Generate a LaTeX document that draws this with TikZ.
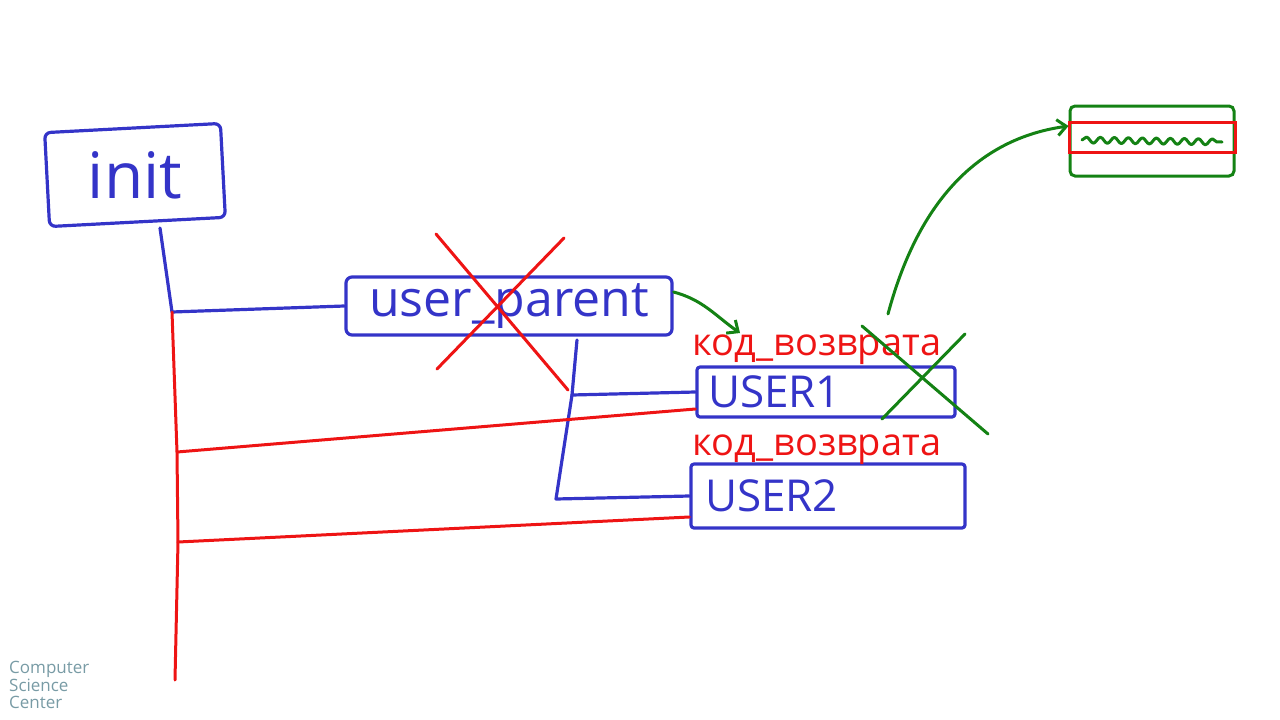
\documentclass[tikz,border=0pt]{standalone}
\usepackage{fontspec}
\setmainfont{Open Sans}
\usetikzlibrary{arrows.meta,decorations.pathmorphing}
\definecolor{pblue}{RGB}{52,52,200}
\definecolor{pred}{RGB}{238,20,20}
\definecolor{pgreen}{RGB}{20,130,20}
\definecolor{logo}{RGB}{120,155,165}
\tikzset{
  bluepen/.style={draw=pblue,line width=3.2pt,line cap=round,line join=round},
  redpen/.style={draw=pred,line width=3pt,line cap=round,line join=round},
  greenpen/.style={draw=pgreen,line width=3pt,line cap=round,line join=round},
  procbox/.style={bluepen,rounded corners=6pt,inner sep=0pt,text=pblue},
}
\begin{document}
\begin{tikzpicture}[x=1pt,y=-1pt]
\useasboundingbox (0,0) rectangle (1280,720);
% init
\node[procbox,minimum width=176pt,minimum height=94pt,rotate=3] (init) at (135,175) {};
\node[text=pblue,inner sep=0pt,font=\fontsize{64}{66}\selectfont] (initlabel) at (init.center) {init};
% user_parent
\node[procbox,minimum width=326pt,minimum height=58pt,font=\fontsize{50}{52}\selectfont] (up) at (509,306) {user\_parent};
% user1, user2
\node[procbox,rounded corners=3pt,minimum width=258pt,minimum height=50pt,font=\fontsize{44}{46}\selectfont,text width=236pt,align=left] (u1) at (826,392) {USER1};
\node[procbox,rounded corners=3pt,minimum width=274pt,minimum height=64pt,font=\fontsize{44}{46}\selectfont,text width=246pt,align=left] (u2) at (828,496) {USER2};
% return code labels
\node[text=pred,font=\fontsize{38}{40}\selectfont,inner sep=0pt] (rc1) at (817,350) {код\_возврата};
\node[text=pred,font=\fontsize{38}{40}\selectfont,inner sep=0pt] (rc2) at (817,450) {код\_возврата};
% tree lines
\coordinate (j0) at (172,312);
\coordinate (j1) at (572,395);
\coordinate (j2) at (556,499);
\coordinate (r1) at (177,452);
\coordinate (r2) at (178,542);
\coordinate (rend) at (175,680);
\coordinate (ib) at (160,228);
\draw[bluepen] (ib) -- (j0) -- (up.west);
\draw[bluepen] (577,340) -- (j1) -- (u1.west);
\draw[bluepen] (j1) -- (j2) -- (u2.west);
\draw[redpen] (j0) -- (r1) -- (r2) -- (rend);
\draw[redpen] (r1) -- (u1.west |- 0,409);
\draw[redpen] (r2) -- (u2.west |- 0,517);
% red X over user_parent
\coordinate (xa1) at (436,234); \coordinate (xa2) at (568,390);
\coordinate (xb1) at (564,238); \coordinate (xb2) at (437,369);
\draw[redpen] (xa1) -- (xa2);
\draw[redpen] (xb1) -- (xb2);
% green arrow from user_parent to return code
\draw[greenpen,-{Straight Barb[length=9pt,width=16pt]}] (up.east |- 0,292) to[out=-15,in=145] (740,333);
% green X over user1
\coordinate (ga1) at (862,326); \coordinate (ga2) at (988,434);
\coordinate (gb1) at (965,334); \coordinate (gb2) at (882,419);
\draw[greenpen] (ga1) -- (ga2);
\draw[greenpen] (gb1) -- (gb2);
% top-right green box
\node[draw=pgreen,line width=3pt,rounded corners=5pt,minimum width=164pt,minimum height=70pt] (gbox) at (1152,141) {};
\node[draw=pred,line width=3pt,minimum width=166pt,minimum height=30pt] (rbox) at (1152,137) {};
\coordinate (s1) at (1082,140); \coordinate (s2) at (1222,142);
\draw[greenpen,decorate,decoration={snake,amplitude=3pt,segment length=14pt}] (s1) -- (s2);
% green arrow to box
\coordinate (ga0) at (888,314);
\draw[greenpen,-{Straight Barb[length=9pt,width=16pt]}] (ga0) to[out=75,in=188] (gbox.west |- 0,126);
% logo
\node[text=logo,font=\fontsize{17}{17.5}\selectfont,align=left,anchor=north west,inner sep=0pt] (logo) at (9,661) {Computer\\Science\\Center};
\end{tikzpicture}
\end{document}
